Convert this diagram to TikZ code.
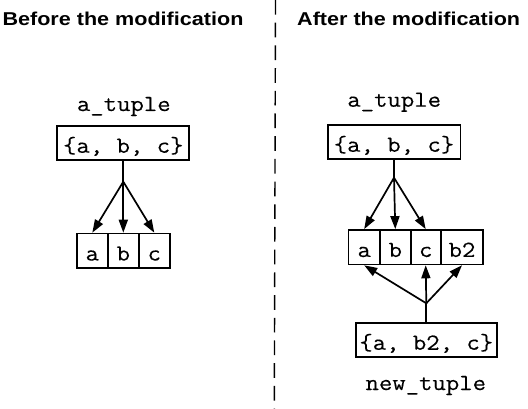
\documentclass[tikz,border=0pt]{standalone}
\usepackage{fontspec}
\newfontfamily\monof[FakeStretch=1.13,FakeBold=0.3]{Latin Modern Mono}
\newfontfamily\titlef[FakeStretch=1.16]{Liberation Sans}
\usetikzlibrary{arrows.meta}
\begin{document}
\begin{tikzpicture}[x=1pt,y=-1pt,
  titletext/.style={font=\titlef\bfseries\fontsize{18.6}{20}\selectfont, inner sep=0pt, anchor=base},
  lab/.style={font=\monof\fontsize{23}{26}\selectfont, inner sep=0pt, anchor=base},
  tbox/.style={draw, line width=1.7pt, font=\monof\fontsize{23}{26}\selectfont,
    inner sep=0pt, text height=19.5pt, text depth=0pt, minimum height=34.5pt},
  arr/.style={-{Triangle[length=13pt,width=9pt]}, line width=1.7pt},
  stem/.style={line width=1.7pt},
  divider/.style={dash pattern=on 14.7pt off 8pt, line width=1.4pt}
]
\useasboundingbox (0,0) rectangle (528,409);

% titles
\node[titletext] (t1) at (123,26) {Before the modification};
\node[titletext] (t2) at (408.7,26) {After the modification};

% divider
\coordinate (d1) at (275.5,0);
\coordinate (d2) at (274.3,409);
\draw[divider] (d1) -- (d2);

% ---- left ----
\node[lab] (l1) at (123.8,111) {a\_tuple};
\node[tbox, minimum width=132pt] (lbox) at (123.3,143) {\{a, b, c\}};
\coordinate (lbr) at (123.3,181.7);
\node[tbox, minimum width=31pt] (la) at (92.3,250.8) {a};
\node[tbox, minimum width=31pt] (lb) at (123.3,250.8) {b};
\node[tbox, minimum width=31pt] (lc) at (154.3,250.8) {c};
\draw[stem] (lbox.south) -- (lbr);
\draw[arr] (lbr) -- (la.north);
\draw[arr] (lbr) -- (lb.north);
\draw[arr] (lbr) -- (lc.north);

% ---- right ----
\node[lab] (l2) at (394.2,106.7) {a\_tuple};
\node[tbox, minimum width=132.7pt] (rbox) at (394,142) {\{a, b, c\}};
\coordinate (rbr) at (394,177.7);
\node[tbox, minimum width=31.7pt] (ra) at (364.2,247.2) {a};
\node[tbox, minimum width=30.7pt] (rb) at (395.3,247.2) {b};
\node[tbox, minimum width=30pt] (rc) at (425.7,247.2) {c};
\node[tbox, minimum width=42.6pt] (rd) at (462,247.2) {b2};
\draw[stem] (rbox.south) -- (rbr);
\draw[arr] (rbr) -- (ra.north);
\draw[arr] (rbr) -- (rb.north);
\draw[arr] (rbr) -- (rc.north);

\node[tbox, minimum width=140.7pt] (nbox) at (426.3,340) {\{a, b2, c\}};
\coordinate (nbr) at (426.3,303.3);
\draw[stem] (nbox.north) -- (nbr);
\draw[arr] (nbr) -- (ra.south);
\draw[arr] (nbr) -- (rc.south);
\draw[arr] (nbr) -- (rd.south);
\node[lab] (l3) at (425.8,390) {new\_tuple};
\end{tikzpicture}
\end{document}
